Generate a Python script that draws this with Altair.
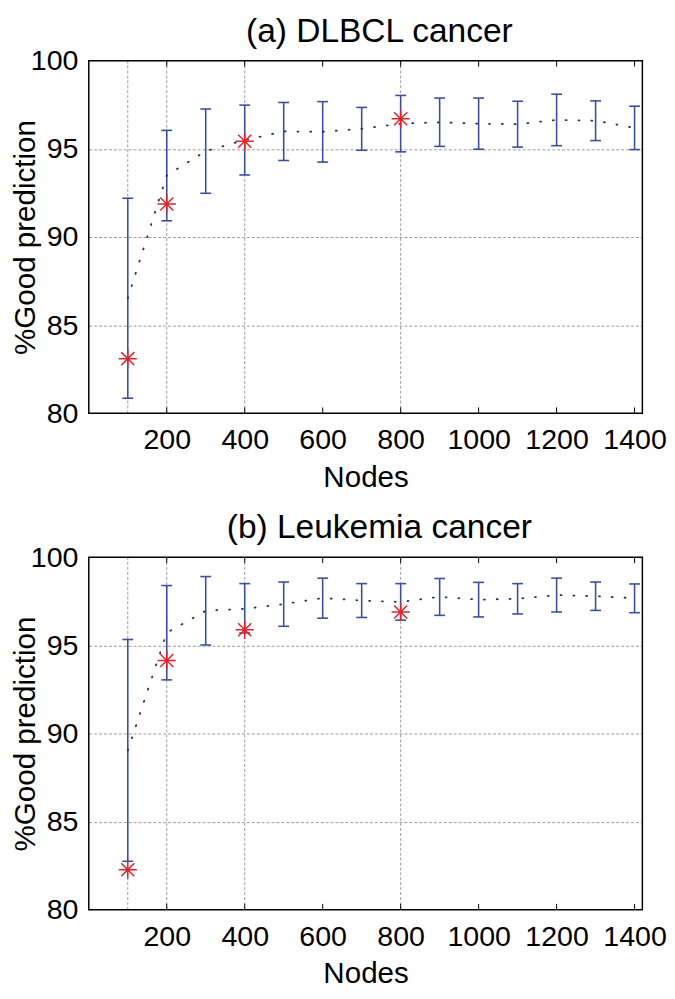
import altair as alt
import pandas as pd

# ---------------- data ----------------
nodes = [100, 200, 300, 400, 500, 600, 700, 800, 900, 1000, 1100, 1200, 1300, 1400]

dlbcl_mean = [86.53, 93.49, 94.87, 95.50, 95.99, 95.97, 96.14, 96.43, 96.51, 96.43, 96.40, 96.64, 96.60, 96.19]
dlbcl_low = [80.86, 90.92, 92.48, 93.52, 94.34, 94.25, 94.92, 94.83, 95.14, 94.98, 95.10, 95.18, 95.47, 94.96]
dlbcl_high = [92.20, 96.05, 97.26, 97.48, 97.63, 97.68, 97.35, 98.03, 97.88, 97.88, 97.70, 98.10, 97.72, 97.42]

leuk_mean = [89.04, 95.71, 96.96, 97.07, 97.34, 97.68, 97.54, 97.46, 97.75, 97.59, 97.64, 97.85, 97.79, 97.67]
leuk_low = [82.75, 93.04, 95.02, 95.70, 96.08, 96.54, 96.58, 96.43, 96.70, 96.61, 96.78, 96.89, 96.98, 96.85]
leuk_high = [95.33, 98.39, 98.90, 98.50, 98.59, 98.81, 98.50, 98.50, 98.79, 98.57, 98.50, 98.81, 98.59, 98.48]

star_nodes = [100, 200, 400, 800]
dlbcl_star = [83.10, 91.87, 95.43, 96.71]
leuk_star = [82.27, 94.14, 95.88, 96.89]

vgrid_nodes = [100, 200, 400, 800]
x_tick_values = [200, 400, 600, 800, 1000, 1200, 1400]
y_tick_values = [80, 85, 90, 95, 100]

titles = ["(a) DLBCL cancer", "(b) Leukemia cancer"]

# ---------------- styling ----------------
W, H = 562, 358
BLUE = "#3a4ea3"
NAVY = "#1f2b6e"
RED = "#e1222b"
GRID = "#9a9a9a"
FONT = "Liberation Sans"
ASTERISK = "M-1,0L1,0M0,-1L0,1M-0.72,-0.72L0.72,0.72M-0.72,0.72L0.72,-0.72"

x_scale = alt.Scale(domain=[0, 1420], nice=False, zero=False)
y_scale = alt.Scale(domain=[80, 100], nice=False, zero=False)

x_axis = alt.Axis(
    values=x_tick_values, format="d", ticks=False, tickSize=0, domain=False, grid=False,
    labelFontSize=29, labelPadding=13, labelColor="black", labelFlush=False,
    title="Nodes", titleFontSize=30, titleFontWeight="normal", titlePadding=8, titleColor="black",
)
y_axis = alt.Axis(
    values=y_tick_values, ticks=False, tickSize=0, domain=False, grid=True,
    gridDash=[3, 2], gridColor=GRID, gridWidth=1,
    gridOpacity={"condition": {"test": "datum.value == 80 || datum.value == 100", "value": 0}, "value": 1},
    labelFontSize=29, labelPadding=11, labelColor="black",
    title="%Good prediction", titleFontSize=30, titleFontWeight="normal", titlePadding=-10, titleColor="black",
)


def X(field="node"):
    return alt.X(f"{field}:Q", scale=x_scale, axis=x_axis)


def Y(field):
    return alt.Y(f"{field}:Q", scale=y_scale, axis=y_axis)


def panel(title, mean, low, high, star):
    df = pd.DataFrame({"node": nodes, "mean": mean, "low": low, "high": high})
    sdf = pd.DataFrame({"node": star_nodes, "val": star})
    gdf = pd.DataFrame({"node": vgrid_nodes})
    tdf = pd.DataFrame({"node": x_tick_values})
    fdf = pd.DataFrame({"k": [0]})

    vgrid = alt.Chart(gdf).mark_rule(color=GRID, strokeDash=[3, 2], strokeWidth=1).encode(
        x=X(), y=alt.value(0), y2=alt.value(H)
    )
    bars = alt.Chart(df).mark_rule(color=BLUE, strokeWidth=1.6).encode(
        x=X(), y=Y("low"), y2="high:Q"
    )
    cap_low = alt.Chart(df).mark_rule(color=BLUE, strokeWidth=1.6, xOffset=-5.5, x2Offset=5.5).encode(
        x=X(), x2="node:Q", y=Y("low")
    )
    cap_high = alt.Chart(df).mark_rule(color=BLUE, strokeWidth=1.6, xOffset=-5.5, x2Offset=5.5).encode(
        x=X(), x2="node:Q", y=Y("high")
    )
    line = alt.Chart(df).mark_line(color=NAVY, strokeDash=[1, 12], strokeWidth=1.8, strokeCap="round").encode(
        x=X(), y=Y("mean")
    )
    stars = alt.Chart(sdf).mark_point(
        shape=ASTERISK, size=340, color=RED, filled=False, strokeWidth=1.5, opacity=1
    ).encode(x=X(), y=Y("val"))
    ticks_bottom = alt.Chart(tdf).mark_rule(color="black", strokeWidth=1).encode(
        x=X(), y=alt.value(H), y2=alt.value(H - 6)
    )
    ticks_top = alt.Chart(tdf).mark_rule(color="black", strokeWidth=1).encode(
        x=X(), y=alt.value(0), y2=alt.value(6)
    )
    frame = alt.Chart(fdf).mark_rect(filled=False, stroke="black", strokeWidth=1.5).encode(
        x=alt.value(0), x2=alt.value(W), y=alt.value(0), y2=alt.value(H)
    )
    return alt.layer(vgrid, bars, cap_low, cap_high, line, stars, ticks_bottom, ticks_top, frame).properties(
        width=W, height=H,
        title=alt.TitleParams(title, fontSize=34, font=FONT, fontWeight="normal", color="black",
                              dx=14, offset=-2, anchor="middle"),
    )


chart = alt.vconcat(
    panel(titles[0], dlbcl_mean, dlbcl_low, dlbcl_high, dlbcl_star),
    panel(titles[1], leuk_mean, leuk_low, leuk_high, leuk_star),
    spacing=20,
).properties(padding={"left": 2, "top": 0, "right": 0, "bottom": 0}).configure(font=FONT).configure_view(stroke=None)

chart.save("out.html", embed_options={"renderer": "svg", "actions": False})
